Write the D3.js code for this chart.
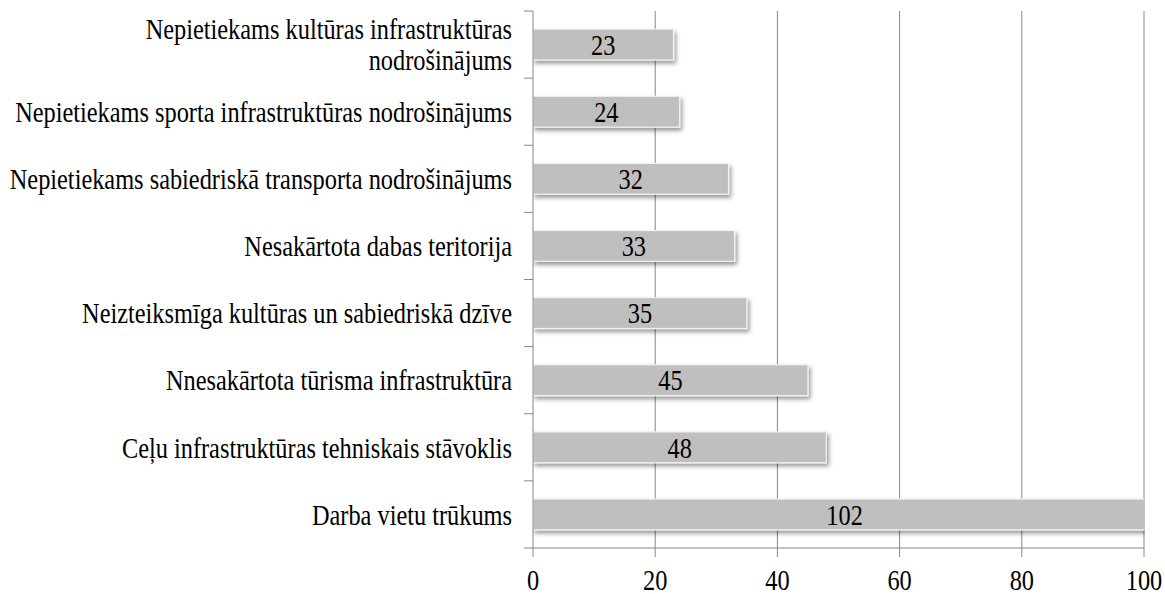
<!DOCTYPE html>
<html><head><meta charset="utf-8">
<script src="https://cdn.jsdelivr.net/npm/d3@7/dist/d3.min.js"></script>
<style>body{margin:0;background:#fff}svg{display:block}</style>
</head><body>
<svg id="c" width="1165" height="594"></svg>
<script>
const categories = [
  ["Nepietiekams kultūras infrastruktūras", "nodrošinājums"],
  ["Nepietiekams sporta infrastruktūras nodrošinājums"],
  ["Nepietiekams sabiedriskā transporta nodrošinājums"],
  ["Nesakārtota dabas teritorija"],
  ["Neizteiksmīga kultūras un sabiedriskā dzīve"],
  ["Nnesakārtota tūrisma infrastruktūra"],
  ["Ceļu infrastruktūras tehniskais stāvoklis"],
  ["Darba vietu trūkums"]
];
const values = [23, 24, 32, 33, 35, 45, 48, 102];
const xTicks = [0, 20, 40, 60, 80, 100];

(function(){
const FF = "'Liberation Serif', 'Times New Roman', Times, serif";
const svg = d3.select("#c").style("font-family", FF);
const L = 533, R = 1144, T = 11, B = 548;

const probe = svg.append("text").style("font-family", FF).attr("font-size", 24).text(categories[1][0]);
const w = probe.node().getComputedTextLength();
probe.remove();
const fs = 24 * 497 / w;
const sy = 30 / fs;

const keys = categories.map((c, i) => i);
const x = d3.scaleLinear().domain([0, 100]).range([L, R]);
const y = d3.scaleBand().domain(keys).range([T, B]).paddingInner(0.54).paddingOuter(0.27);

const defs = svg.append("defs");
const f = defs.append("filter").attr("id", "sh").attr("x", "-5%").attr("y", "-30%").attr("width", "115%").attr("height", "170%");
f.append("feDropShadow").attr("dx", 2).attr("dy", 3).attr("stdDeviation", 2).attr("flood-color", "#000").attr("flood-opacity", 0.4);
defs.append("clipPath").attr("id", "clip").append("rect").attr("x", L).attr("y", 0).attr("width", R - L + 0.5).attr("height", 594);

svg.append("g").selectAll("line").data(xTicks.filter(d => d > 0)).join("line")
  .attr("x1", d => x(d)).attr("x2", d => x(d)).attr("y1", T).attr("y2", B)
  .attr("stroke", "#868686").attr("stroke-width", 1);

svg.append("g").attr("clip-path", "url(#clip)").selectAll("rect").data(values).join("rect")
  .attr("x", x(0)).attr("y", (d, i) => y(i)).attr("width", d => x(d) - x(0)).attr("height", y.bandwidth())
  .attr("fill", "#bfbfbf").attr("stroke", "#f2f2f2").attr("stroke-width", 1.2).attr("filter", "url(#sh)");

svg.append("g").selectAll("g").data(values).join("g")
  .attr("transform", (d, i) => `translate(${x(d / 2)},${y(i) + y.bandwidth() / 2}) scale(1,${sy})`)
  .append("text").style("font-family", FF).attr("text-anchor", "middle").attr("dy", "0.34em").attr("font-size", fs).attr("fill", "#000").text(d => d);

const ya = svg.append("g");
ya.append("line").attr("x1", L).attr("x2", L).attr("y1", T).attr("y2", B).attr("stroke", "#868686");
const bounds = keys.map(k => y(k) - y.step() * y.paddingInner() / 2).concat([B]);
ya.selectAll("line.t").data(bounds).join("line").attr("class", "t")
  .attr("x1", L - 9).attr("x2", L).attr("y1", d => d).attr("y2", d => d).attr("stroke", "#868686");

const lg = svg.append("g").selectAll("g").data(categories).join("g")
  .attr("transform", (d, i) => `translate(${L - 21},${y(i) + y.bandwidth() / 2}) scale(1,${sy})`);
lg.each(function(lines) {
  const g = d3.select(this);
  const lh = 31 / sy;
  lines.forEach((t, j) => {
    g.append("text").style("font-family", FF).attr("text-anchor", "end").attr("font-size", fs).attr("fill", "#000")
      .attr("y", (j - (lines.length - 1) / 2) * lh).attr("dy", "0.34em").text(t);
  });
});

const xa = svg.append("g");
xa.append("line").attr("x1", L).attr("x2", R).attr("y1", B).attr("y2", B).attr("stroke", "#868686");
xa.selectAll("line.t").data(xTicks).join("line").attr("class", "t")
  .attr("x1", d => x(d)).attr("x2", d => x(d)).attr("y1", B).attr("y2", B + 9).attr("stroke", "#868686");
xa.selectAll("g").data(xTicks).join("g")
  .attr("transform", d => `translate(${x(d)},590) scale(1,${sy})`)
  .append("text").style("font-family", FF).attr("text-anchor", "middle").attr("font-size", fs).attr("fill", "#000").text(d => d);
})();
</script>
</body></html>
